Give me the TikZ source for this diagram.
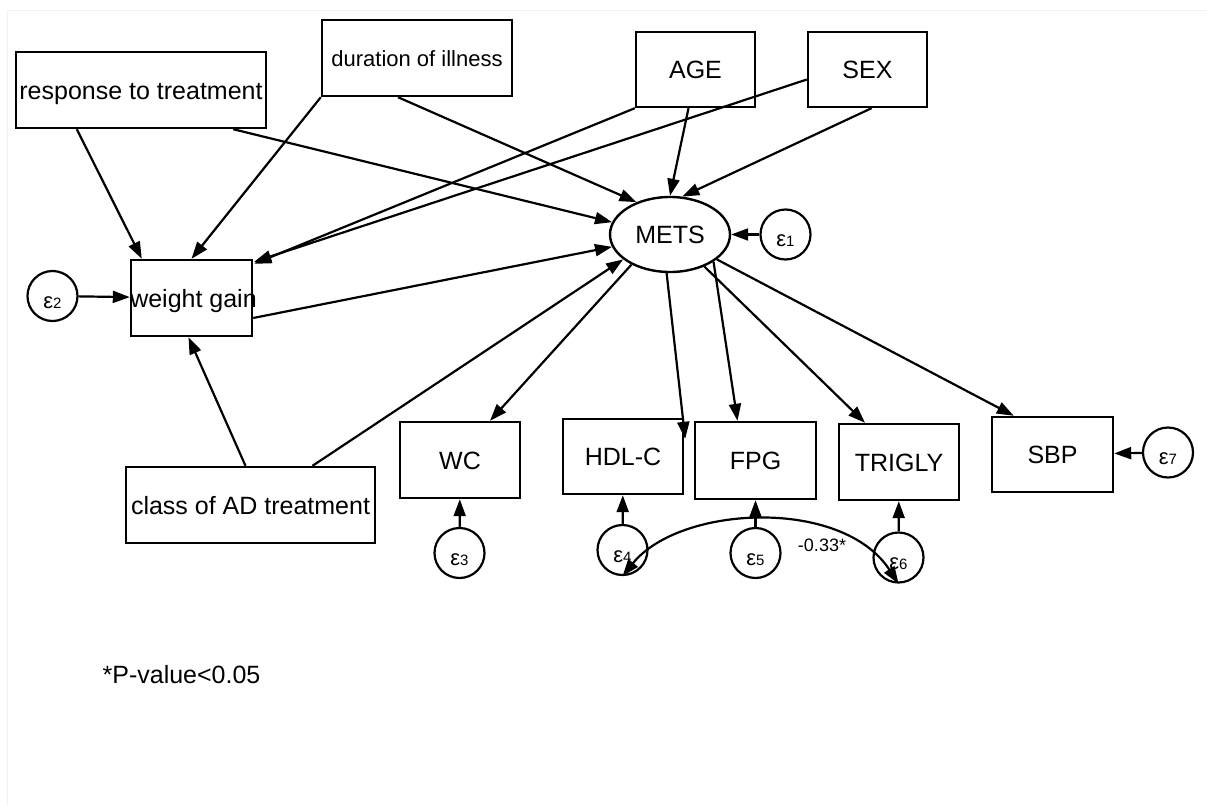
\documentclass[tikz,border=0pt]{standalone}
\usepackage{fontspec}
\setmainfont{Liberation Sans}
\usetikzlibrary{arrows.meta,calc,shapes.geometric}
\newcommand\errlab[1]{{\fontsize{22pt}{24pt}\selectfont ε}{\fontsize{15pt}{16pt}\selectfont #1}}
\begin{document}
\begin{tikzpicture}[x=1pt,y=-1pt,
  txt/.style={font=\fontsize{25pt}{28pt}\selectfont, text height=18pt, text depth=0pt},
  box/.style={draw, rectangle, line width=2.4pt, inner sep=0pt, minimum width=120pt, minimum height=75pt, txt},
  lat/.style={draw, ellipse, line width=2.4pt, inner sep=0pt, minimum width=120pt, minimum height=75pt, txt},
  err/.style={draw, circle, line width=2.2pt, inner sep=0pt, minimum size=50pt, text height=24pt, text depth=0pt},
  conn/.style={line width=2.2pt, -{Triangle[length=17pt,width=12pt]}},
  dbl/.style={line width=2.2pt, {Triangle[length=17pt,width=12pt]}-{Triangle[length=17pt,width=12pt]}},
]
\useasboundingbox (0,0) rectangle (1207,806);
\draw[black!6, line width=1pt] (7,806) -- (7,10) -- (1207,10);

% nodes
\node[box, minimum width=250pt, minimum height=76pt] (resp) at (141,90) {response to treatment};
\node[box, minimum width=190pt, minimum height=76pt, font=\fontsize{22pt}{26pt}\selectfont, text height=16pt] (dur) at (417,58) {duration of illness};
\node[box, minimum width=119pt] (age) at (695.5,69.5) {AGE};
\node[box, minimum width=119pt] (sex) at (867.5,69.5) {SEX};
\node[lat] (mets) at (670,234.5) {METS};
\node[err] (e1) at (785.5,234.5) {\errlab{1}};
\node[box, minimum width=121pt, minimum height=76pt] (wg) at (191.5,298) {\makebox[0pt]{\hspace*{4pt}weight gain}};
\node[err] (e2) at (52.5,296) {\errlab{2}};
\node[box, minimum width=249pt, minimum height=76pt] (cls) at (250.5,505) {class of AD treatment};
\node[box, minimum height=76pt] (wc) at (460,460) {WC};
\node[box] (hdl) at (623,456.5) {HDL-C};
\node[box, minimum width=121pt, minimum height=77pt] (fpg) at (755.5,460.5) {FPG};
\node[box, minimum height=76pt] (tri) at (899,462) {TRIGLY};
\node[box, minimum width=121pt] (sbp) at (1052.5,454.5) {SBP};
\node[err] (e3) at (459.5,553) {\errlab{3}};
\node[err] (e4) at (622.5,550) {\errlab{4}};
\node[err] (e5) at (755.5,553) {\errlab{5}};
\node[err] (e6) at (898.5,557.5) {\errlab{6}};
\node[err] (e7) at (1168,452.5) {\errlab{7}};
\node[font=\fontsize{18pt}{20pt}\selectfont, inner sep=0pt] (corr) at (822,545) {-0.33*};
\node[txt, inner sep=0pt] (note) at (181.5,674) {*P-value<0.05};

% connectors
\draw[conn] ($(resp.south west)+(62,0)$) -- ($(wg.north west)+(12,0)$);
\draw[conn] ($(resp.south east)+(-34,0)$) -- (mets.168);
\draw[conn] (dur.south west) -- (wg.north);
\draw[conn] ($(dur.south)+(-19,0)$) -- (mets.136);
\draw[conn] (age.south west) -- ($(wg.north east)+(1,5)$);
\draw[conn] ($(sex.west)+(0,10)$) -- ($(wg.north east)+(1,3)$);
\draw[conn] ($(age.south)+(-7,0)$) -- (mets.north);
\draw[conn] ($(sex.south)+(4,0)$) -- (mets.72);
\draw[conn] ($(wg.east)+(0,20)$) -- (mets.192);
\draw[conn] ($(cls.north)+(-5,0)$) -- ($(wg.south)+(-3,0)$);
\draw[conn] ($(cls.north)+(62,0)$) -- (mets.208);
\draw[conn] (mets.218) -- ($(wc.north)+(30,0)$);
\draw[conn] (mets.265) -- ($(hdl.north east)+(1,21)$);
\draw[conn] (mets.328) -- ($(fpg.north)+(-18,0)$);
\draw[conn] (mets.317) -- ($(tri.north)+(-34,0)$);
\draw[conn] (mets.332) -- ($(sbp.north west)+(23,0)$);
\draw[conn] (e1) -- (mets);
\draw[conn] (e2) -- (wg);
\draw[conn] (e3) -- (wc);
\draw[conn] (e4) -- (hdl);
\draw[conn] (e5) -- (fpg);
\draw[conn] (e6) -- (tri);
\draw[conn] (e7) -- (sbp);
\draw[dbl] (e4.south) .. controls +(57.5,-71) and +(-56.5,-86.5) .. (e6.south);
\end{tikzpicture}
\end{document}
